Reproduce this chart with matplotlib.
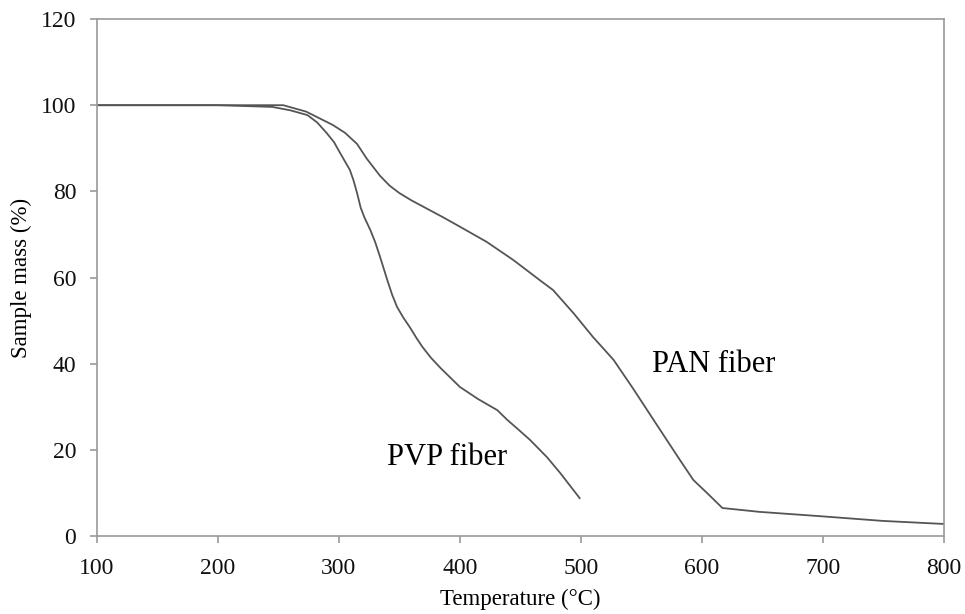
import matplotlib.pyplot as plt

plt.rcParams['font.family'] = ['Liberation Serif', 'DejaVu Serif']

# PAN fiber TGA curve
pan_temp = [100, 150, 200, 240, 254, 273, 295, 305, 315, 323, 334, 342, 350, 360,
            372, 386, 400, 422, 444, 466, 477, 494, 510, 527, 543, 560, 582, 593,
            605, 617, 648, 698, 750, 800]
pan_mass = [100, 100, 100, 100, 100, 98.5, 95.4, 93.6, 91.0, 87.6, 83.6, 81.3, 79.6,
            77.9, 76.1, 74.0, 71.8, 68.3, 64.1, 59.4, 57.1, 51.7, 46.2, 40.9, 34.3,
            27.0, 17.6, 13.0, 9.8, 6.5, 5.6, 4.6, 3.5, 2.8]

# PVP fiber TGA curve
pvp_temp = [100, 150, 200, 245, 260, 274, 282, 290, 296, 301, 309, 312, 315, 318,
            321, 326, 330, 334, 340, 344, 348, 353, 359, 364, 369, 376, 384, 392,
            400, 415, 423, 431, 439, 448, 458, 472, 483, 499]
pvp_mass = [100, 100, 100, 99.6, 98.8, 97.7, 96.0, 93.5, 91.4, 88.9, 85.0, 82.6,
            79.6, 76.2, 74.0, 71.0, 68.2, 64.8, 59.4, 56.0, 53.2, 50.8, 48.3, 46.0,
            43.9, 41.4, 39.0, 36.8, 34.6, 31.8, 30.5, 29.2, 27.0, 24.8, 22.3, 18.3,
            14.6, 8.8]

x_ticks = [100, 200, 300, 400, 500, 600, 700, 800]
y_ticks = [0, 20, 40, 60, 80, 100, 120]

fig = plt.figure(figsize=(9.65, 6.14), dpi=100)
ax = fig.add_axes([0.1005, 0.127, 0.8775, 0.842])

ax.plot(pan_temp, pan_mass, color='#555555', lw=1.3)
ax.plot(pvp_temp, pvp_mass, color='#555555', lw=1.3)

ax.set_xlim(100, 800)
ax.set_ylim(0, 120)
ax.set_xticks(x_ticks)
ax.set_yticks(y_ticks)

for sp in ax.spines.values():
    sp.set_color('#9a9a9a')
    sp.set_linewidth(1.2)
ax.tick_params(direction='out', length=5, width=1.2, color='#9a9a9a',
               labelsize=17, labelcolor='#111111')
ax.tick_params(axis='x', pad=11)
ax.tick_params(axis='y', pad=10)

ax.set_xlabel('Temperature (°C)', fontsize=16.5, labelpad=7)
ax.set_ylabel('Sample mass (%)', fontsize=16.5, labelpad=6)

ax.text(340, 18.3, 'PVP fiber', fontsize=22, va='center', ha='left')
ax.text(559, 39.7, 'PAN fiber', fontsize=22, va='center', ha='left')

fig.savefig('out.png', dpi=100)
